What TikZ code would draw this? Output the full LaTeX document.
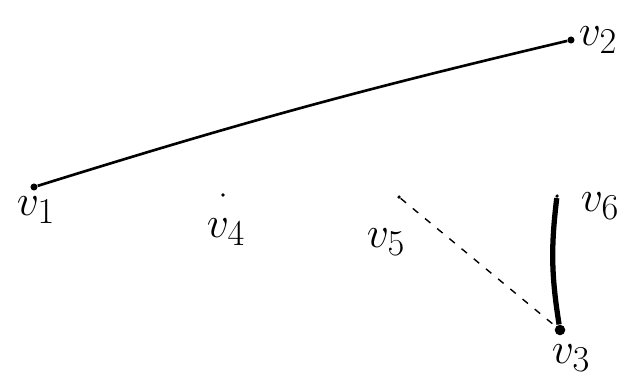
\documentclass[tikz,border=0pt]{standalone}
\usetikzlibrary{positioning}

\tikzset{
  vtx/.style={circle, fill=black, inner sep=0pt, minimum size=4pt},
  lbl/.style={font=\Huge},
}

\begin{document}
\begin{tikzpicture}[x=0.02cm, y=-0.02cm]
\useasboundingbox (0,0) rectangle (640,383);

%% vertices
\node[vtx] (v1) at (34,187) {};
\node[vtx] (v2) at (571,40) {};
\node[vtx, minimum size=2pt] (v4) at (223,195) {};
\node[vtx, minimum size=2pt] (v5) at (399,197) {};
\node[vtx, minimum size=2pt] (v6) at (557,196) {};
\node[vtx, minimum size=6pt] (v3) at (560,330) {};

%% labels
\node[lbl] (l1) at (36,210) {$v_1$};
\node[lbl] (l2) at (598,40) {$v_2$};
\node[lbl] (l4) at (226,232) {$v_4$};
\node[lbl] (l5) at (386,242) {$v_5$};
\node[lbl] (l6) at (600,206) {$v_6$};
\node[lbl] (l3) at (571,358) {$v_3$};

%% edges
\draw[line width=1.5pt] (v1) to[bend left=2] (v2);
\draw[line width=0.8pt, dash pattern=on 4pt off 5pt] (v5) -- (v3);
\draw[line width=3pt] (v6) to[bend right=8] (v3);

\end{tikzpicture}
\end{document}
